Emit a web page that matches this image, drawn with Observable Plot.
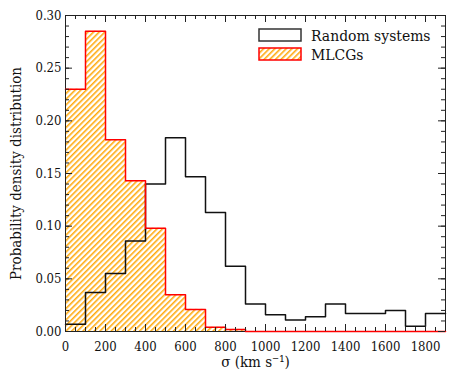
<!DOCTYPE html>
<html>
<head>
<meta charset="utf-8">
<script src="https://cdn.jsdelivr.net/npm/d3@7"></script>
<script src="https://cdn.jsdelivr.net/npm/@observablehq/plot@0.6"></script>
<style>
  html, body { margin: 0; padding: 0; background: #fff; }
</style>
</head>
<body>
<div id="chart"></div>
<script>
// Bin starts (km/s), bin width 100
const binStarts = [0,100,200,300,400,500,600,700,800,900,1000,1100,1200,1300,1400,1500,1600,1700,1800];
const binWidth = 100;
const randomSystems = [0.007,0.037,0.055,0.086,0.140,0.184,0.147,0.113,0.062,0.026,0.016,0.011,0.014,0.026,0.017,0.017,0.020,0.005,0.017];
const mlcgs = [0.230,0.285,0.182,0.143,0.098,0.035,0.021,0.004,0.002,0,0,0,0,0,0,0,0,0,0];
const xTickLabels = [0,200,400,600,800,1000,1200,1400,1600,1800];
const yTickLabels = [0,0.05,0.10,0.15,0.20,0.25,0.30];
const seriesNames = ["Random systems", "MLCGs"];

const xMax = binStarts[binStarts.length - 1] + binWidth;
const bars = binStarts.map((s, i) => ({x1: s, x2: s + binWidth, r: randomSystems[i], m: mlcgs[i]}));
const stepPts = (vals) => binStarts.map((s, i) => ({x: s, y: vals[i]})).concat([{x: xMax, y: vals[vals.length - 1]}]);

const xMinor = d3.range(0, xMax + 1, 50);
const xMajor = xTickLabels;
const yMinor = d3.range(0, 0.3001, 0.01);
const yMajor = yTickLabels;

const W = 463, H = 381, mL = 65, mR = 18, mT = 15, mB = 50;
const fw = W - mL - mR, fh = H - mT - mB;
const frameColor = "#222";
const serif = "'DejaVu Serif Condensed', 'DejaVu Serif', serif";

const plot = Plot.plot({
  width: W, height: H,
  marginLeft: mL, marginRight: mR, marginTop: mT, marginBottom: mB,
  style: {color: "#111", background: "#fff"},
  x: {domain: [0, xMax]},
  y: {domain: [0, 0.30]},
  marks: [
    Plot.rectY(bars, {x1: "x1", x2: "x2", y: "m", fill: "url(#hatch)", inset: 0}),
    Plot.frame({stroke: frameColor, strokeWidth: 1}),
    Plot.line(stepPts(randomSystems), {x: "x", y: "y", curve: "step-after", stroke: "#111", strokeWidth: 1.5}),
    Plot.line(stepPts(mlcgs), {x: "x", y: "y", curve: "step-after", stroke: "#ff0000", strokeWidth: 1.5}),
    // inward ticks, bottom & top
    Plot.ruleX(xMinor, {insetTop: fh - 4, stroke: frameColor}),
    Plot.ruleX(xMinor, {insetBottom: fh - 4, stroke: frameColor}),
    Plot.ruleX(xMajor, {insetTop: fh - 7, stroke: frameColor}),
    Plot.ruleX(xMajor, {insetBottom: fh - 7, stroke: frameColor}),
    // inward ticks, left & right
    Plot.ruleY(yMinor, {insetRight: fw - 4, stroke: frameColor}),
    Plot.ruleY(yMinor, {insetLeft: fw - 4, stroke: frameColor}),
    Plot.ruleY(yMajor, {insetRight: fw - 7, stroke: frameColor}),
    Plot.ruleY(yMajor, {insetLeft: fw - 7, stroke: frameColor}),
    Plot.axisX({ticks: xTickLabels, tickSize: 0, tickPadding: 10, fontSize: 13, tickFormat: d => String(d), label: null}),
    Plot.axisY({ticks: yTickLabels, tickSize: 0, tickPadding: 4, fontSize: 13, tickFormat: d3.format(".2f"), label: null}),
    Plot.text(["Probability density distribution"], {frameAnchor: "left", textAnchor: "middle", lineAnchor: "middle", rotate: -90, dx: -49, fontSize: 15, fill: "#111"}),
    Plot.text(["σ (km s⁻¹)"], {frameAnchor: "bottom", textAnchor: "middle", lineAnchor: "middle", dy: 31, fontSize: 15, fill: "#111"})
  ]
});

const svg = d3.select(plot);
const defs = svg.insert("defs", ":first-child");
const pat = defs.append("pattern")
  .attr("id", "hatch")
  .attr("patternUnits", "userSpaceOnUse")
  .attr("width", 4).attr("height", 4)
  .attr("patternTransform", "rotate(45)");
pat.append("rect").attr("width", 4).attr("height", 4).attr("fill", "#fff");
pat.append("line").attr("x1", 0.8).attr("y1", 0).attr("x2", 0.8).attr("y2", 4)
  .attr("stroke", "#ffa500").attr("stroke-width", 1.5);

// legend
const lg = svg.append("g").attr("font-size", 15.5).attr("fill", "#111").attr("text-anchor", "start");
lg.append("rect").attr("x", 259).attr("y", 29).attr("width", 42).attr("height", 12)
  .attr("fill", "#fff").attr("stroke", "#333").attr("stroke-width", 1.5);
lg.append("rect").attr("x", 259).attr("y", 48).attr("width", 42).attr("height", 12)
  .attr("fill", "url(#hatch)").attr("stroke", "#ff0000").attr("stroke-width", 1.5);
lg.append("text").attr("x", 311).attr("y", 41).text(seriesNames[0]);
lg.append("text").attr("x", 311).attr("y", 60).text(seriesNames[1]);

svg.attr("font-family", serif).style("font-family", serif);
svg.selectAll("text, g").attr("font-family", serif).style("font-family", serif);

document.getElementById("chart").appendChild(plot);
</script>
</body>
</html>
